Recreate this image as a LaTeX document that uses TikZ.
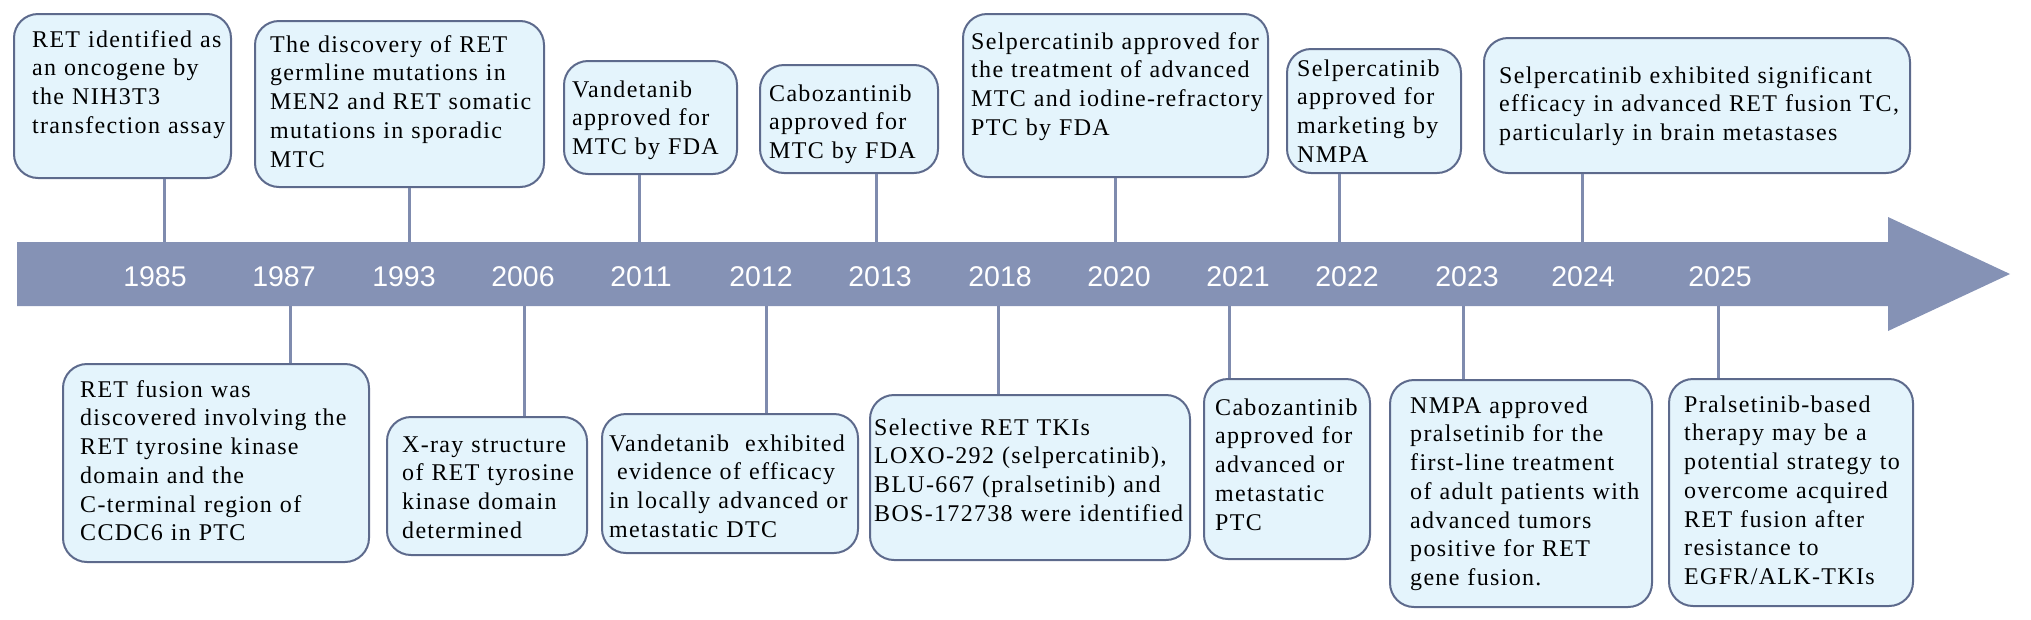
\documentclass[tikz,border=0pt]{standalone}
\usepackage{fontspec}
\setmainfont{Liberation Serif}[LetterSpace=5.5]
\newfontfamily\yearfont{Liberation Sans}
\definecolor{bandclr}{HTML}{8592B5}
\definecolor{connclr}{HTML}{7F8BAE}
\definecolor{boxfill}{HTML}{E4F4FC}
\definecolor{boxline}{HTML}{5D6A8C}
\newcommand\fl{\rule{0pt}{20pt}}
\tikzset{
  evbox/.style={draw=boxline, line width=2pt, fill=boxfill, rounded corners=24pt, inner sep=0pt, anchor=north west},
  evtext/.style={anchor=north west, inner sep=0pt, text width=420pt, align=left, font=\fontsize{24}{28.7}\selectfont},
  yearlbl/.style={anchor=base, inner sep=0pt, text=white, font=\yearfont\fontsize{28.5}{30}\selectfont},
  conn/.style={draw=connclr, line width=3pt}
}
\begin{document}
\begin{tikzpicture}[x=1pt,y=-1pt]
\useasboundingbox (0,0) rectangle (2031,619);
% band arrow
\fill[bandclr] (17,242) -- (1888,242) -- (1888,217) -- (2010,274) -- (1888,331) -- (1888,306) -- (17,306) -- cycle;
% years
\foreach \yr/\xx in {1985/155,1987/284,1993/404,2006/523,2011/641,2012/761,2013/880,2018/1000,2020/1119,2021/1238,2022/1347,2023/1467,2024/1583,2025/1720}
  \node[yearlbl] (y\yr) at (\xx,286) {\yr};
% top boxes
\node[evbox, minimum width=217pt, minimum height=164pt] (b1985) at (13,13) {};
\node[evtext] (t1985) at (32,27) {\fl RET identified as\\an oncogene by\\the NIH3T3\\transfection assay};
\node[evbox, minimum width=289pt, minimum height=166pt] (b1993) at (254,20) {};
\node[evtext] (t1993) at (270,32) {\fl The discovery of RET\\germline mutations in\\MEN2 and RET somatic\\mutations in sporadic\\MTC};
\node[evbox, minimum width=173pt, minimum height=113pt] (b2011) at (563,60) {};
\node[evtext] (t2011) at (572,77) {\fl Vandetanib\\approved for\\MTC by FDA};
\node[evbox, minimum width=178pt, minimum height=108pt] (b2013) at (759,64) {};
\node[evtext] (t2013) at (769,81) {\fl Cabozantinib\\approved for\\MTC by FDA};
\node[evbox, minimum width=305pt, minimum height=163pt] (b2020) at (962,13) {};
\node[evtext] (t2020) at (971,29) {\fl Selpercatinib approved for\\the treatment of advanced\\MTC and iodine-refractory\\PTC by FDA};
\node[evbox, minimum width=174pt, minimum height=124pt] (b2022) at (1286,48) {};
\node[evtext] (t2022) at (1297,56) {\fl Selpercatinib\\approved for\\marketing by\\NMPA};
\node[evbox, minimum width=426pt, minimum height=135pt] (b2024) at (1483,37) {};
\node[evtext] (t2024) at (1499,63) {\fl Selpercatinib exhibited significant\\efficacy in advanced RET fusion TC,\\particularly in brain metastases};
% bottom boxes
\node[evbox, minimum width=306pt, minimum height=198pt] (b1987) at (62,363) {};
\node[evtext] (t1987) at (80,377) {\fl RET fusion was\\discovered involving the\\RET tyrosine kinase\\domain and the\\C-terminal region of\\CCDC6 in PTC};
\node[evbox, minimum width=200pt, minimum height=138pt] (b2006) at (386,416) {};
\node[evtext] (t2006) at (402,432) {\fl X-ray structure\\of RET tyrosine\\kinase domain\\determined};
\node[evbox, minimum width=256pt, minimum height=139pt] (b2012) at (601,413) {};
\node[evtext] (t2012) at (609,431) {\fl Vandetanib\ \ exhibited\\\ evidence of efficacy\\in locally advanced or\\metastatic DTC};
\node[evbox, minimum width=320pt, minimum height=165pt] (b2018) at (869,394) {};
\node[evtext] (t2018) at (874,415) {\fl Selective RET TKIs\\LOXO-292 (selpercatinib),\\BLU-667 (pralsetinib) and\\BOS-172738 were identified};
\node[evbox, minimum width=166pt, minimum height=180pt] (b2021) at (1203,378) {};
\node[evtext] (t2021) at (1215,395) {\fl Cabozantinib\\approved for\\advanced or\\metastatic\\PTC};
\node[evbox, minimum width=262pt, minimum height=227pt] (b2023) at (1389,379) {};
\node[evtext] (t2023) at (1410,393) {\fl NMPA approved\\pralsetinib for the\\first-line treatment\\of adult patients with\\advanced tumors\\positive for RET\\gene fusion.};
\node[evbox, minimum width=244pt, minimum height=227pt] (b2025) at (1668,378) {};
\node[evtext] (t2025) at (1684,392) {\fl Pralsetinib-based\\therapy may be a\\potential strategy to\\overcome acquired\\RET fusion after\\resistance to\\EGFR/ALK-TKIs};
% connector anchor points on band
\foreach \yr/\xx in {1985/164,1993/409,2011/639,2013/876,2020/1115,2022/1339,2024/1582}
  \coordinate (p\yr) at (\xx,242);
\foreach \yr/\xx in {1987/290,2006/524,2012/766,2018/998,2021/1229,2023/1463,2025/1718}
  \coordinate (p\yr) at (\xx,306);
\foreach \yr in {1985,1993,2011,2013,2020,2022,2024}
  \draw[conn] (p\yr |- b\yr.south) -- (p\yr);
\foreach \yr in {1987,2006,2012,2018,2021,2023,2025}
  \draw[conn] (p\yr) -- (p\yr |- b\yr.north);
\end{tikzpicture}
\end{document}
